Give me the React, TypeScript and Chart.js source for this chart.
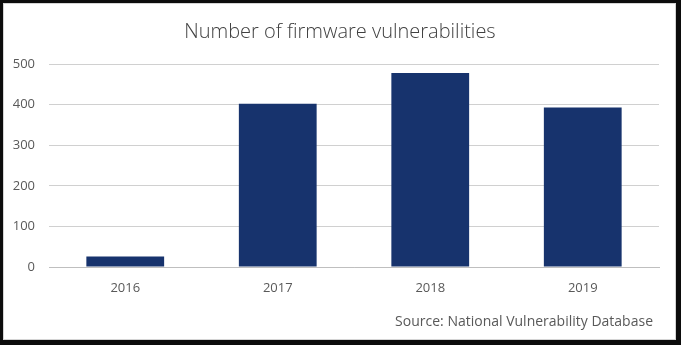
import React, { useEffect, useRef } from "react";
import { Chart, registerables } from "chart.js";

Chart.register(...registerables);

const years = ["2016", "2017", "2018", "2019"];
const vulnerabilities = [26, 402, 478, 393];
const yMin = 0;
const yMax = 500;
const yStep = 100;
const titleText = "Number of firmware vulnerabilities";
const sourceText = "Source: National Vulnerability Database";

const WIDTH = 681;
const HEIGHT = 345;
const FONT = "'Open Sans', 'Segoe UI', sans-serif";

// Draws the dark frame, white panel, title and source note around the plot.
const framePlugin = {
  id: "frameAndNotes",
  beforeDraw(chart: Chart) {
    const ctx = chart.ctx;
    ctx.save();
    ctx.fillStyle = "#0c0c0c";
    ctx.fillRect(0, 0, WIDTH, HEIGHT);
    ctx.fillStyle = "#ffffff";
    ctx.fillRect(3, 3, 673, 337);
    ctx.strokeStyle = "#d4d4d4";
    ctx.lineWidth = 1;
    ctx.strokeRect(3.5, 3.5, 672, 336);
    ctx.restore();
  },
  afterDraw(chart: Chart) {
    const ctx = chart.ctx;
    ctx.save();
    ctx.fillStyle = "#404040";
    ctx.font = `300 20px ${FONT}`;
    ctx.textAlign = "center";
    ctx.textBaseline = "middle";
    ctx.fillText(titleText, 340, 32);

    ctx.fillStyle = "#595959";
    ctx.font = `400 14px ${FONT}`;
    ctx.textAlign = "right";
    ctx.fillText(sourceText, 653, 322);
    ctx.restore();
  },
};

export default function App() {
  const canvasRef = useRef<HTMLCanvasElement | null>(null);

  useEffect(() => {
    if (!canvasRef.current) return;
    const chart = new Chart(canvasRef.current, {
      type: "bar",
      data: {
        labels: years,
        datasets: [
          {
            data: vulnerabilities,
            backgroundColor: "#17336d",
            borderWidth: 0,
            categoryPercentage: 1,
            barPercentage: 0.51,
          },
        ],
      },
      options: {
        animation: false,
        responsive: false,
        maintainAspectRatio: false,
        layout: { padding: { top: 64, right: 22, bottom: 48, left: 0 } },
        plugins: {
          legend: { display: false },
          title: { display: false },
          tooltip: { enabled: false },
        },
        scales: {
          x: {
            grid: { display: false, drawTicks: false },
            border: { display: true, color: "#bfbfbf", width: 1 },
            ticks: {
              color: "#595959",
              font: { family: FONT, size: 13 },
              padding: 13,
            },
            afterFit(scale: any) {
              scale.height = 30;
            },
          },
          y: {
            min: yMin,
            max: yMax,
            grid: { color: "#d0d0d0", drawTicks: false, lineWidth: 1 },
            border: { display: false },
            ticks: {
              stepSize: yStep,
              color: "#595959",
              font: { family: FONT, size: 13 },
              padding: 14,
            },
            afterFit(scale: any) {
              scale.width = 49;
            },
          },
        },
      },
      plugins: [framePlugin],
    });
    return () => chart.destroy();
  }, []);

  return (
    <div style={{ position: "fixed", left: 0, top: 0, width: WIDTH, height: HEIGHT }}>
      <canvas ref={canvasRef} width={WIDTH} height={HEIGHT} style={{ display: "block" }} />
    </div>
  );
}
